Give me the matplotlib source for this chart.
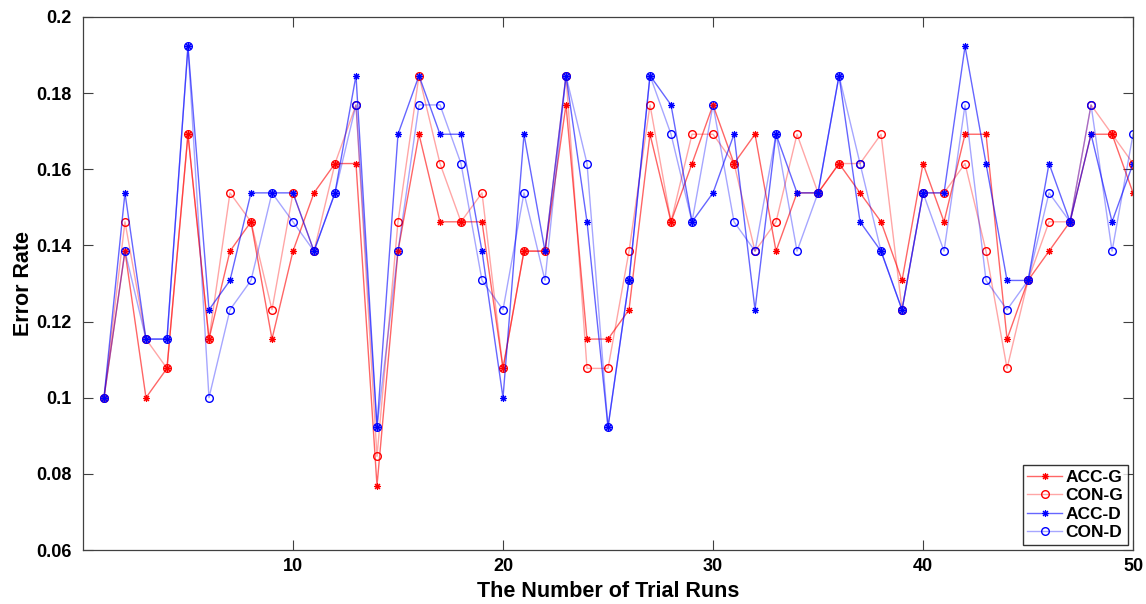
import matplotlib
matplotlib.use("Agg")
import matplotlib.pyplot as plt
from matplotlib.ticker import FuncFormatter

plt.rcParams['font.family'] = ['Liberation Sans', 'DejaVu Sans']

# Trial run index
runs = list(range(1, 51))

# Error rates per run
acc_g = [0.1, 0.1385, 0.1, 0.1077, 0.1692, 0.1154, 0.1385, 0.1462, 0.1154, 0.1385,
         0.1538, 0.1615, 0.1615, 0.0769, 0.1385, 0.1692, 0.1462, 0.1462, 0.1462, 0.1077,
         0.1385, 0.1385, 0.1769, 0.1154, 0.1154, 0.1231, 0.1692, 0.1462, 0.1615, 0.1769,
         0.1615, 0.1692, 0.1385, 0.1538, 0.1538, 0.1615, 0.1538, 0.1462, 0.1308, 0.1615,
         0.1462, 0.1692, 0.1692, 0.1154, 0.1308, 0.1385, 0.1462, 0.1692, 0.1692, 0.1538]
con_g = [0.1, 0.1462, 0.1154, 0.1077, 0.1692, 0.1154, 0.1538, 0.1462, 0.1231, 0.1538,
         0.1385, 0.1615, 0.1769, 0.0846, 0.1462, 0.1846, 0.1615, 0.1462, 0.1538, 0.1077,
         0.1385, 0.1385, 0.1846, 0.1077, 0.1077, 0.1385, 0.1769, 0.1462, 0.1692, 0.1692,
         0.1615, 0.1385, 0.1462, 0.1692, 0.1538, 0.1615, 0.1615, 0.1692, 0.1231, 0.1538,
         0.1538, 0.1615, 0.1385, 0.1077, 0.1308, 0.1462, 0.1462, 0.1769, 0.1692, 0.1615]
acc_d = [0.1, 0.1538, 0.1154, 0.1154, 0.1923, 0.1231, 0.1308, 0.1538, 0.1538, 0.1538,
         0.1385, 0.1538, 0.1846, 0.0923, 0.1692, 0.1846, 0.1692, 0.1692, 0.1385, 0.1,
         0.1692, 0.1385, 0.1846, 0.1462, 0.0923, 0.1308, 0.1846, 0.1769, 0.1462, 0.1538,
         0.1692, 0.1231, 0.1692, 0.1538, 0.1538, 0.1846, 0.1462, 0.1385, 0.1231, 0.1538,
         0.1538, 0.1923, 0.1615, 0.1308, 0.1308, 0.1615, 0.1462, 0.1692, 0.1462, 0.1615]
con_d = [0.1, 0.1385, 0.1154, 0.1154, 0.1923, 0.1, 0.1231, 0.1308, 0.1538, 0.1462,
         0.1385, 0.1538, 0.1769, 0.0923, 0.1385, 0.1769, 0.1769, 0.1615, 0.1308, 0.1231,
         0.1538, 0.1308, 0.1846, 0.1615, 0.0923, 0.1308, 0.1846, 0.1692, 0.1462, 0.1769,
         0.1462, 0.1385, 0.1692, 0.1385, 0.1538, 0.1846, 0.1615, 0.1385, 0.1231, 0.1538,
         0.1385, 0.1769, 0.1308, 0.1231, 0.1308, 0.1538, 0.1462, 0.1769, 0.1385, 0.1692]

fig = plt.figure(figsize=(11.46, 6.04), dpi=100)
ax = fig.add_axes((0.0724, 0.0894, 0.9163, 0.8825))

# asterisk marker like MATLAB '*': plus and cross together
star = (8, 2, 0)

ax.plot(runs, acc_g, color=(1, 0, 0, 0.6), lw=1.0, marker=star, ms=5, mew=0.8,
        mec='red', mfc='red', label='ACC-G')
ax.plot(runs, con_g, color=(1, 0, 0, 0.35), lw=1.0, marker='o', ms=5.5, mew=1.0,
        mec='red', mfc='none', label='CON-G')
ax.plot(runs, acc_d, color=(0, 0, 1, 0.6), lw=1.0, marker=star, ms=5, mew=0.8,
        mec='blue', mfc='blue', label='ACC-D')
ax.plot(runs, con_d, color=(0, 0, 1, 0.35), lw=1.0, marker='o', ms=5.5, mew=1.0,
        mec='blue', mfc='none', label='CON-D')

ax.set_xlim(0, 50)
ax.set_ylim(0.06, 0.2)
ax.set_xticks([10, 20, 30, 40, 50])
ax.set_yticks([0.06, 0.08, 0.1, 0.12, 0.14, 0.16, 0.18, 0.2])
ax.yaxis.set_major_formatter(FuncFormatter(lambda v, p: f"{v:g}"))

ax.tick_params(direction='in', top=True, right=True, length=7, width=0.8,
               labelsize=13, color='#404040')
ax.tick_params(axis='y', pad=8)
ax.tick_params(axis='x', pad=6)
for lab in ax.get_xticklabels() + ax.get_yticklabels():
    lab.set_fontweight('bold')
for sp in ax.spines.values():
    sp.set_color('#404040')
    sp.set_linewidth(0.9)

ax.set_xlabel('The Number of Trial Runs', fontsize=15.5, fontweight='bold', labelpad=4)
ax.set_ylabel('Error Rate', fontsize=15.5, fontweight='bold', labelpad=2)

leg = ax.legend(loc='lower right', fancybox=False, edgecolor='black',
                prop={'weight': 'bold', 'size': 12.5}, handlelength=2.0,
                handletextpad=0.2, borderpad=0.25, labelspacing=0.2,
                borderaxespad=0.3)
leg.get_frame().set_linewidth(1.0)

fig.savefig('out.png', dpi=100)
